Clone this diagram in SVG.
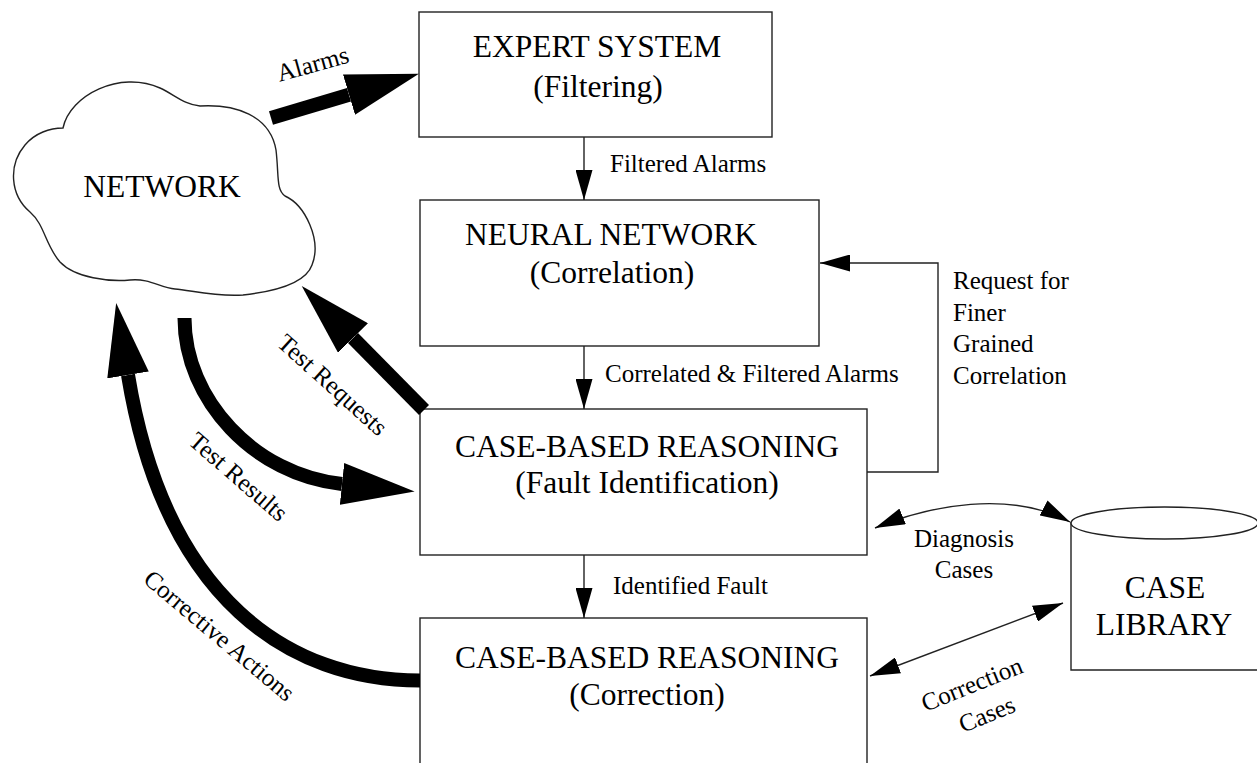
<svg xmlns="http://www.w3.org/2000/svg" width="1257" height="763" viewBox="0 0 1257 763">
<style>
  .box { fill: #fff; stroke: #222; stroke-width: 1.4; }
  .title { font-family: "Liberation Serif", "Times New Roman", serif; font-size: 31.5px; fill: #000; text-anchor: middle; }
  .lbl { font-family: "Liberation Serif", "Times New Roman", serif; font-size: 25px; fill: #000; }
  .mid { text-anchor: middle; }
  .thin { fill: none; stroke: #222; stroke-width: 1.4; }
  .thick { fill: none; stroke: #000; stroke-width: 14; }
</style>
<defs>
  <marker id="ah" markerUnits="userSpaceOnUse" markerWidth="30" markerHeight="17" refX="30" refY="8.5" orient="auto-start-reverse">
    <path d="M0,0 L30,8.5 L0,17 Z" fill="#000"/>
  </marker>
  <marker id="big" markerUnits="userSpaceOnUse" markerWidth="73" markerHeight="42" refX="0" refY="21" orient="auto">
    <path d="M0,0 L73,21 L0,42 Z" fill="#000"/>
  </marker>
</defs>
<rect width="1257" height="763" fill="#fff"/>

<g id="network">
  <path class="box" d="M63,128 C70,95 120,70 160,88 C175,95 185,105 200,106 C235,104 270,115 276,150 C279,175 276,190 285,196 C305,205 322,240 312,265 C305,285 270,292 243,295 C215,297 190,290 175,289 C160,288 150,278 130,280 C110,282 75,278 60,262 C45,245 45,225 30,212 C10,195 8,165 25,145 C35,133 50,128 63,128 Z"/>
  <text class="title" x="162" y="197">NETWORK</text>
</g>

<g id="expert-system">
  <rect class="box" x="419" y="12" width="353" height="125"/>
  <text class="title" x="597" y="57">EXPERT SYSTEM</text>
  <text class="title" x="598" y="97">(Filtering)</text>
</g>

<g id="neural-network">
  <rect class="box" x="420" y="200" width="399" height="146"/>
  <text class="title" x="611" y="245">NEURAL NETWORK</text>
  <text class="title" x="612" y="283">(Correlation)</text>
</g>

<g id="cbr-fault">
  <rect class="box" x="420" y="409" width="447" height="146"/>
  <text class="title" x="647" y="457">CASE-BASED REASONING</text>
  <text class="title" x="647" y="493">(Fault Identification)</text>
</g>

<g id="cbr-correction">
  <rect class="box" x="420" y="618" width="447" height="160"/>
  <text class="title" x="647" y="668">CASE-BASED REASONING</text>
  <text class="title" x="647" y="705">(Correction)</text>
</g>

<g id="case-library">
  <path class="thin" d="M1071,522 L1071,670 L1258,670"/>
  <ellipse class="box" cx="1164.5" cy="523" rx="93.5" ry="16"/>
  <text class="title" x="1165" y="598">CASE</text>
  <text class="title" x="1164" y="635">LIBRARY</text>
</g>

<g id="connectors">
  <line class="thin" x1="584" y1="137" x2="584" y2="200" marker-end="url(#ah)"/>
  <line class="thin" x1="584" y1="346" x2="584" y2="409" marker-end="url(#ah)"/>
  <line class="thin" x1="584" y1="555" x2="584" y2="618" marker-end="url(#ah)"/>
  <polyline class="thin" points="867,472 938,472 938,263 820,263" marker-end="url(#ah)"/>
  <path class="thin" d="M875,528 C930,505 1010,490 1070,522" marker-start="url(#ah)" marker-end="url(#ah)"/>
  <line class="thin" x1="870" y1="676" x2="1063" y2="603" marker-start="url(#ah)" marker-end="url(#ah)"/>

  <line class="thick" x1="271" y1="118" x2="349" y2="94.7" marker-end="url(#big)"/>
  <line class="thick" x1="424" y1="410" x2="353" y2="338" marker-end="url(#big)"/>
  <path class="thick" d="M184.5,318 C184.5,400 255,475 342,484" marker-end="url(#big)"/>
  <path class="thick" d="M420,680.5 C290,680.5 165,600 128,375" marker-end="url(#big)"/>

  <text class="lbl" x="610" y="172">Filtered Alarms</text>
  <text class="lbl" x="605" y="382">Correlated &amp; Filtered Alarms</text>
  <text class="lbl" x="613" y="594">Identified Fault</text>
  <text class="lbl" x="953" y="289">Request for</text>
  <text class="lbl" x="953" y="321">Finer</text>
  <text class="lbl" x="953" y="352">Grained</text>
  <text class="lbl" x="953" y="384">Correlation</text>
  <text class="lbl mid" x="964" y="547">Diagnosis</text>
  <text class="lbl mid" x="964" y="578">Cases</text>
  <text class="lbl mid" transform="translate(975,692) rotate(-22)">Correction</text>
  <text class="lbl mid" transform="translate(990,722) rotate(-22)">Cases</text>
  <text class="lbl mid" transform="translate(315,72) rotate(-15.5)">Alarms</text>
  <text class="lbl mid" transform="translate(327,391) rotate(42)">Test Requests</text>
  <text class="lbl mid" transform="translate(233,483) rotate(41)">Test Results</text>
  <text class="lbl mid" transform="translate(214,642) rotate(40)">Corrective Actions</text>
</g>
</svg>
